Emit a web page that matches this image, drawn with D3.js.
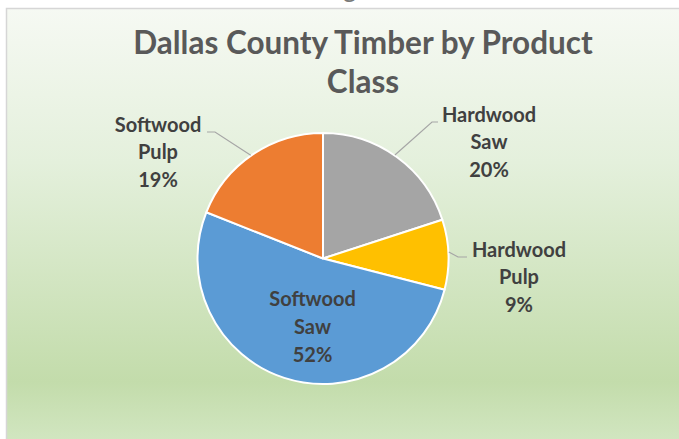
<!DOCTYPE html>
<html>
<head>
<meta charset="utf-8">
<script src="https://cdn.jsdelivr.net/npm/d3@7"></script>
<style>
  html, body { margin: 0; padding: 0; background: #ffffff; }
  svg { display: block; }
</style>
</head>
<body>
<svg id="chart" width="679" height="439"></svg>
<script>
// ---- data ----
const categories = ["Hardwood Saw", "Hardwood Pulp", "Softwood Saw", "Softwood Pulp"];
const values = [20, 9, 52, 19];
const labelLines = [["Hardwood", "Saw", "20%"], ["Hardwood", "Pulp", "9%"], ["Softwood", "Saw", "52%"], ["Softwood", "Pulp", "19%"]];
const colors = ["#a5a5a5", "#ffc000", "#5b9bd5", "#ed7d31"];
const titleLines = ["Dallas County Timber by Product", "Class"];

// ---- layout ----
const W = 679, H = 439;
const cx = 323, cy = 258.5, R = 125.5;
const svg = d3.select("#chart");
const defs = svg.append("defs");
const grad = defs.append("linearGradient").attr("id", "bg").attr("x1", 0).attr("y1", 0).attr("x2", 0).attr("y2", 1);
[[0, "#f6f9f3"], [0.35, "#e4f0dc"], [0.85, "#c3dcab"], [1, "#d3e7c3"]].forEach(([o, c]) =>
  grad.append("stop").attr("offset", o).attr("stop-color", c));

// stray glyph from text above the chart
svg.append("text").attr("x", 343).attr("y", -3).attr("font-family", "Lato, sans-serif")
  .attr("font-size", 26).attr("fill", "#7a7a7a").text("g");

svg.append("rect").attr("x", 6.5).attr("y", 8.5).attr("width", W).attr("height", H)
  .attr("fill", "url(#bg)").attr("stroke", "#d6d6d6").attr("stroke-width", 1.5);

// title
const title = svg.append("g").attr("font-family", "Lato, 'Open Sans', sans-serif")
  .attr("font-weight", "bold").attr("fill", "#595959").attr("text-anchor", "middle");
title.selectAll("text").data(titleLines).join("text")
  .attr("x", 363).attr("y", (d, i) => 54 + i * 39)
  .attr("font-size", 31.5)
  .text(d => d);

// pie
const pie = d3.pie().sort(null).value(d => d)(values);
const arc = d3.arc().innerRadius(0).outerRadius(R);
const g = svg.append("g").attr("transform", `translate(${cx},${cy})`);
g.selectAll("path").data(pie).join("path")
  .attr("d", arc)
  .attr("fill", (d, i) => colors[i])
  .attr("stroke", "#ffffff").attr("stroke-width", 2).attr("stroke-linejoin", "round");

// labels: first-line baseline position relative to centre
const labelPos = [[166, -137], [196, -2], [-10.5, 47.5], [-165, -127]];
// leader: label end, elbow, rim angle (deg, clockwise from top)
const leaders = [
  [[115, -136.5], [109, -136.5], 34.8],
  [[144, -1.5], [135, -1.5], 87],
  null,
  [[-116, -126.5], [-108, -126.5], -35]
];
pie.forEach((d, i) => {
  if (!leaders[i]) return;
  const aa = leaders[i][2] * Math.PI / 180;
  const px = Math.sin(aa) * (R + 0.5), py = -Math.cos(aa) * (R + 0.5);
  g.append("polyline")
    .attr("points", [leaders[i][0], leaders[i][1], [px, py]].map(p => p.join(",")).join(" "))
    .attr("fill", "none").attr("stroke", "#a6a6a6").attr("stroke-width", 1.2);
});

const lab = g.append("g").attr("font-family", "Lato, 'Open Sans', sans-serif")
  .attr("font-weight", "bold").attr("font-size", 20).attr("fill", "#404040").attr("text-anchor", "middle");
labelLines.forEach((lines, i) => {
  const t = lab.append("text").attr("x", labelPos[i][0]).attr("y", labelPos[i][1]);
  lines.forEach((l, j) => t.append("tspan").attr("x", labelPos[i][0]).attr("y", labelPos[i][1] + j * 27.8).text(l));
});
</script>
</body>
</html>
